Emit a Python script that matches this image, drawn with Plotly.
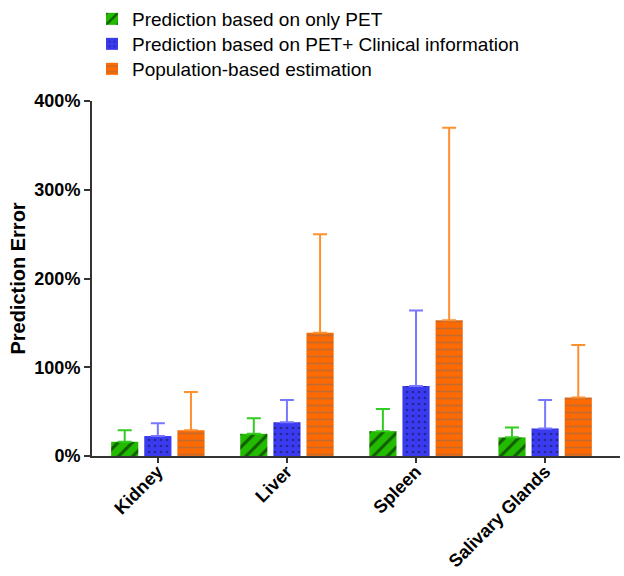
import plotly.graph_objects as go

categories = ["Kidney", "Liver", "Spleen", "Salivary Glands"]
series_names = ["Prediction based on only PET",
                "Prediction based on PET+ Clinical information",
                "Population-based estimation"]
pet_only = [16, 25, 28, 21]
pet_only_top = [29, 42.5, 53, 32]
pet_clin = [22.5, 38, 79, 31]
pet_clin_top = [37, 63, 164, 63]
population = [29, 139, 153, 66]
population_top = [72, 250, 370, 125]
y_ticks = [0, 100, 200, 300, 400]
y_tick_labels = ["0%", "100%", "200%", "300%", "400%"]

FONT = "Arial, Liberation Sans, Helvetica, sans-serif"

styles = [
    dict(bg="#22bb00", fg="#000000", shape="/", err="#33cc22", size=10, solidity=0.3),
    dict(bg="#3a3af0", fg="#111133", shape=".", err="#7777ff", size=6, solidity=0.15),
    dict(bg="#ff6a00", fg="#8a6a5a", shape="-", err="#ff9030", size=7, solidity=0.25),
]
values = [pet_only, pet_clin, population]
tops = [pet_only_top, pet_clin_top, population_top]
legend_ids = ["legend", "legend2", "legend3"]

fig = go.Figure()
for name, vals, top, st, lg in zip(series_names, values, tops, styles, legend_ids):
    fig.add_trace(go.Bar(
        x=categories, y=vals, name=name, legend=lg,
        marker=dict(color=st["bg"], line=dict(width=0),
                    pattern=dict(shape=st["shape"], fgcolor=st["fg"], bgcolor=st["bg"],
                                 size=st["size"], solidity=st["solidity"], fillmode="overlay")),
        error_y=dict(type="data", symmetric=False,
                     array=[t - v for t, v in zip(top, vals)],
                     arrayminus=[0] * len(vals),
                     color=st["err"], thickness=2, width=7),
    ))

legend_style = dict(xref="paper", yref="container", xanchor="left", yanchor="top",
                    font=dict(family=FONT, size=19, color="#000000"),
                    itemwidth=30, bgcolor="rgba(0,0,0,0)")

fig.update_layout(
    width=624, height=576,
    margin=dict(l=92, r=4, t=101, b=120, autoexpand=False),
    paper_bgcolor="white", plot_bgcolor="white",
    barmode="group", bargap=0.23, bargroupgap=0.18,
    font=dict(family=FONT, color="#000000"),
    legend=dict(x=0.0, y=1.0, **legend_style),
    legend2=dict(x=0.0, y=1.0 - 25 / 576, **legend_style),
    legend3=dict(x=0.0, y=1.0 - 50 / 576, **legend_style),
    showlegend=True,
)
fig.update_xaxes(
    range=[-0.51, 3.58], showline=True, linecolor="#333333", linewidth=2,
    ticks="outside", ticklen=5, tickwidth=2, tickcolor="#333333",
    tickangle=-45, tickfont=dict(family=FONT, size=18, weight="bold"),
    ticklabelstandoff=-9,
    showgrid=False, zeroline=False, automargin=False,
)
fig.update_yaxes(
    range=[0, 400], tickvals=y_ticks, ticktext=y_tick_labels,
    showline=True, linecolor="#333333", linewidth=2,
    ticks="outside", ticklen=6, tickwidth=2, tickcolor="#333333",
    tickfont=dict(family=FONT, size=18, weight="bold"),
    title=dict(text="Prediction Error", font=dict(family=FONT, size=20, weight="bold"), standoff=3),
    showgrid=False, zeroline=False, automargin=False,
)

fig.write_html("out.html", config={"displayModeBar": False},
               post_script="document.body.style.margin='0';")
